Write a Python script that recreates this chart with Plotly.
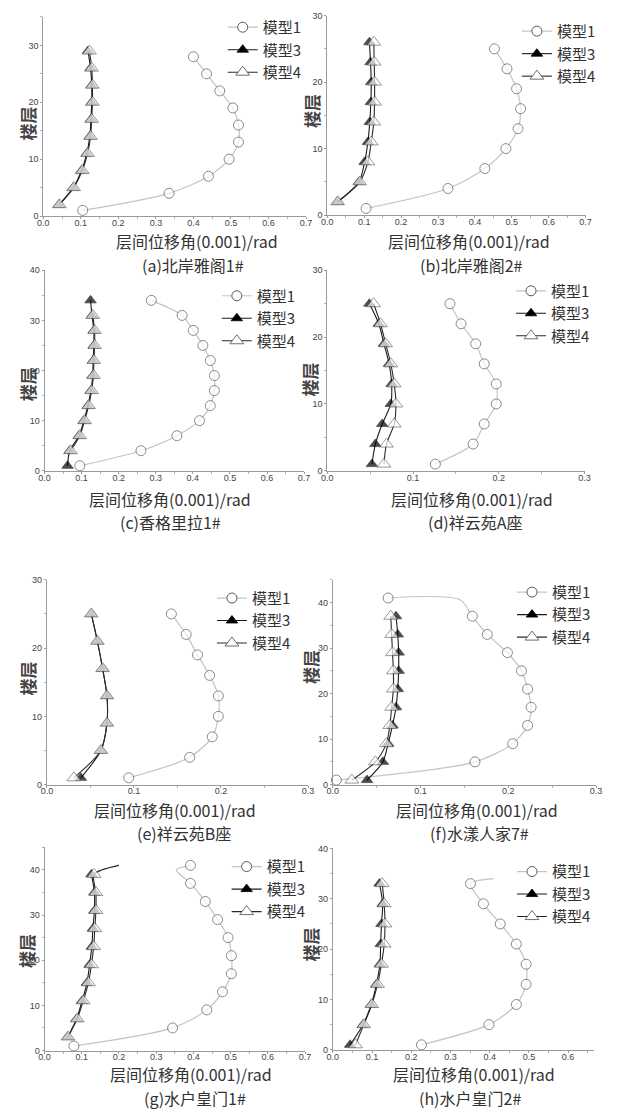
import plotly.graph_objects as go

W, H = 619, 1114

# ---------------- data: storey (楼层) vs. inter-storey drift (0.001 rad) ----------------
# (a) 北岸雅阁1#
a_m1_floor = [1, 4, 7, 10, 13, 16, 19, 22, 25, 28]
a_m1_drift = [0.105, 0.335, 0.44, 0.495, 0.52, 0.52, 0.505, 0.47, 0.435, 0.40]
a_m3_floor = [2, 5, 8, 11, 14, 17, 20, 23, 26, 29]
a_m3_drift = [0.042, 0.080, 0.102, 0.116, 0.124, 0.127, 0.129, 0.129, 0.126, 0.119]
a_m4_floor = [2, 5, 8, 11, 14, 17, 20, 23, 26, 29]
a_m4_drift = [0.043, 0.081, 0.104, 0.118, 0.126, 0.129, 0.131, 0.131, 0.129, 0.123]

# (b) 北岸雅阁2#
b_m1_floor = [1, 4, 7, 10, 13, 16, 19, 22, 25]
b_m1_drift = [0.105, 0.327, 0.427, 0.484, 0.517, 0.524, 0.513, 0.487, 0.453]
b_m3_floor = [2, 5, 8, 11, 14, 17, 20, 23, 26]
b_m3_drift = [0.028, 0.086, 0.101, 0.110, 0.115, 0.118, 0.119, 0.117, 0.114]
b_m4_floor = [2, 5, 8, 11, 14, 17, 20, 23, 26]
b_m4_drift = [0.028, 0.088, 0.110, 0.119, 0.126, 0.128, 0.128, 0.127, 0.126]

# (c) 香格里拉1#
c_m1_floor = [1, 4, 7, 10, 13, 16, 19, 22, 25, 28, 31, 34]
c_m1_drift = [0.095, 0.26, 0.357, 0.418, 0.447, 0.458, 0.458, 0.447, 0.427, 0.401, 0.371, 0.288]
c_m3_floor = [1, 4, 7, 10, 13, 16, 19, 22, 25, 28, 31, 34]
c_m3_drift = [0.062, 0.068, 0.093, 0.106, 0.117, 0.125, 0.130, 0.131, 0.133, 0.133, 0.128, 0.124]
c_m4_floor = [4, 7, 10, 13, 16, 19, 22, 25, 28, 31]
c_m4_drift = [0.070, 0.095, 0.108, 0.119, 0.127, 0.132, 0.133, 0.135, 0.135, 0.130]

# (d) 祥云苑A座
d_m1_floor = [1, 4, 7, 10, 13, 16, 19, 22, 25]
d_m1_drift = [0.126, 0.170, 0.183, 0.197, 0.197, 0.183, 0.173, 0.156, 0.143]
d_m3_floor = [1, 4, 7, 10, 13, 16, 19, 22, 25]
d_m3_drift = [0.052, 0.056, 0.064, 0.074, 0.075, 0.072, 0.066, 0.060, 0.049]
d_m4_floor = [1, 4, 7, 10, 13, 16, 19, 22, 25]
d_m4_drift = [0.066, 0.069, 0.078, 0.080, 0.078, 0.074, 0.068, 0.062, 0.054]

# (e) 祥云苑B座
e_m1_floor = [1, 4, 7, 10, 13, 16, 19, 22, 25]
e_m1_drift = [0.094, 0.164, 0.190, 0.197, 0.197, 0.187, 0.173, 0.160, 0.143]
e_m3_floor = [1, 5, 9, 13, 17, 21, 25]
e_m3_drift = [0.039, 0.062, 0.069, 0.069, 0.064, 0.058, 0.051]
e_m4_floor = [1, 5, 9, 13, 17, 21, 25]
e_m4_drift = [0.031, 0.062, 0.069, 0.069, 0.064, 0.058, 0.051]

# (f) 水漾人家7#
f_m1_floor = [1, 5, 9, 13, 17, 21, 25, 29, 33, 37, 41]
f_m1_drift = [0.004, 0.162, 0.205, 0.222, 0.226, 0.222, 0.215, 0.199, 0.176, 0.159, 0.063]
f_m1_extra_floor = [40.6]
f_m1_extra_drift = [0.145]
f_m3_floor = [1, 5, 9, 13, 17, 21, 25, 29, 33, 37]
f_m3_drift = [0.039, 0.057, 0.063, 0.068, 0.072, 0.074, 0.075, 0.075, 0.074, 0.072]
f_m4_floor = [1, 5, 9, 13, 17, 21, 25, 29, 33, 37]
f_m4_drift = [0.0216, 0.0485, 0.061, 0.065, 0.067, 0.069, 0.069, 0.068, 0.067, 0.066]

# (g) 水户皇门1#
g_m1_floor = [1, 5, 9, 13, 17, 21, 25, 29, 33, 37, 41]
g_m1_drift = [0.079, 0.344, 0.436, 0.478, 0.502, 0.502, 0.493, 0.465, 0.432, 0.392, 0.392]
g_m1_extra_floor = [40]
g_m1_extra_drift = [0.354]
g_m3_floor = [3, 7, 11, 15, 19, 23, 27, 31, 35, 39]
g_m3_drift = [0.062, 0.086, 0.101, 0.114, 0.121, 0.127, 0.130, 0.134, 0.134, 0.126]
g_m4_floor = [3, 7, 11, 15, 19, 23, 27, 31, 35, 39]
g_m4_drift = [0.063, 0.088, 0.104, 0.118, 0.126, 0.132, 0.135, 0.138, 0.138, 0.133]
g_m4_extra_floor = [41]
g_m4_extra_drift = [0.20]

# (h) 水户皇门2#
h_m1_floor = [1, 5, 9, 13, 17, 21, 25, 29, 33]
h_m1_drift = [0.226, 0.398, 0.468, 0.493, 0.493, 0.468, 0.427, 0.384, 0.351]
h_m1_extra_floor = [34]
h_m1_extra_drift = [0.41]
h_m3_floor = [1, 5, 9, 13, 17, 21, 25, 29, 33]
h_m3_drift = [0.044, 0.077, 0.098, 0.111, 0.120, 0.122, 0.124, 0.127, 0.119]
h_m4_floor = [1, 5, 9, 13, 17, 21, 25, 29, 33]
h_m4_drift = [0.058, 0.079, 0.0995, 0.114, 0.124, 0.131, 0.133, 0.131, 0.126]

series_names = ["模型1", "模型3", "模型4"]
x_title = "层间位移角(0.001)/rad"
y_title = "楼层"
captions = ["(a)北岸雅阁1#", "(b)北岸雅阁2#", "(c)香格里拉1#", "(d)祥云苑A座",
            "(e)祥云苑B座", "(f)水漾人家7#", "(g)水户皇门1#", "(h)水户皇门2#"]

panels = [
    dict(m1=(a_m1_floor, a_m1_drift, [], []), m3=(a_m3_floor, a_m3_drift, [], []),
         m4=(a_m4_floor, a_m4_drift, [], []), xr=0.7, yr=35),
    dict(m1=(b_m1_floor, b_m1_drift, [], []), m3=(b_m3_floor, b_m3_drift, [], []),
         m4=(b_m4_floor, b_m4_drift, [], []), xr=0.7, yr=30),
    dict(m1=(c_m1_floor, c_m1_drift, [], []), m3=(c_m3_floor, c_m3_drift, [], []),
         m4=(c_m4_floor, c_m4_drift, [], []), xr=0.7, yr=40),
    dict(m1=(d_m1_floor, d_m1_drift, [], []), m3=(d_m3_floor, d_m3_drift, [], []),
         m4=(d_m4_floor, d_m4_drift, [], []), xr=0.3, yr=30),
    dict(m1=(e_m1_floor, e_m1_drift, [], []), m3=(e_m3_floor, e_m3_drift, [], []),
         m4=(e_m4_floor, e_m4_drift, [], []), xr=0.3, yr=30),
    dict(m1=(f_m1_floor, f_m1_drift, f_m1_extra_floor, f_m1_extra_drift),
         m3=(f_m3_floor, f_m3_drift, [], []),
         m4=(f_m4_floor, f_m4_drift, [], []), xr=0.3, yr=45),
    dict(m1=(g_m1_floor, g_m1_drift, g_m1_extra_floor, g_m1_extra_drift),
         m3=(g_m3_floor, g_m3_drift, [], []),
         m4=(g_m4_floor, g_m4_drift, g_m4_extra_floor, g_m4_extra_drift), xr=0.7, yr=45),
    dict(m1=(h_m1_floor, h_m1_drift, h_m1_extra_floor, h_m1_extra_drift),
         m3=(h_m3_floor, h_m3_drift, [], []),
         m4=(h_m4_floor, h_m4_drift, [], []), xr=0.667, yr=40),
]

# ---------------- layout geometry (pixels) ----------------
# plot-area boxes: left, right, top, bottom
boxes = [
    (38, 306, 12, 213), (327.7, 591, 10.7, 212),
    (39.3, 304, 267.7, 470), (327.7, 590, 267.7, 470),
    (41.7, 308, 580, 786.7), (333.3, 601.7, 580, 786.7),
    (39.3, 305, 849.9, 1055), (333.3, 600, 851, 1054.3),
]
xtitle_pos = [(195, 238), (472, 238), (167, 498), (475, 498),
              (172, 812), (480, 812), (189, 1079), (477, 1079)]
caption_pos = [(191, 262), (475, 262), (168, 522), (478, 522),
               (182, 836), (483, 836), (193, 1102.5), (473, 1102.5)]
ylabel_pos = [(22, 120), (311, 107), (22, 383), (310, 378),
              (22, 680), (310, 668), (21, 955), (311, 948)]
# left edge of each legend box and its top edge
legend_pos = [(221, 6), (521, 10), (215, 277), (515, 272),
              (210, 582), (516, 576), (225, 853), (516, 858)]

STYLE = {
    "模型1": dict(line=dict(color="#c4c4c4", width=1.2),
                 marker=dict(symbol="circle", color="white",
                             line=dict(color="#5a5a5a", width=1))),
    "模型3": dict(line=dict(color="#1a1a1a", width=1.1),
                 marker=dict(symbol="triangle-up", color="black",
                             line=dict(color="black", width=0.8))),
    "模型4": dict(line=dict(color="#2a2a2a", width=1.1),
                 marker=dict(symbol="triangle-up", color="white",
                             line=dict(color="#4a4a4a", width=0.8))),
}
MSIZE = {"模型1": 10, "模型3": 10, "模型4": 12}
FONT_CJK = "Noto Sans CJK SC"


def px(x):
    return x / W


def py(y):
    return 1 - y / H


fig = go.Figure()
layout = dict(width=W, height=H, margin=dict(l=0, r=0, t=0, b=0),
              paper_bgcolor="white", plot_bgcolor="white", showlegend=True)
annotations = []

for i, p in enumerate(panels):
    n = i + 1
    xa = "x" if n == 1 else f"x{n}"
    ya = "y" if n == 1 else f"y{n}"
    leg = "legend" if n == 1 else f"legend{n}"
    for key, name in zip(("m1", "m3", "m4"), series_names):
        fl, dr, efl, edr = p[key]
        pts = [(f, d, True) for f, d in zip(fl, dr)] + [(f, d, False) for f, d in zip(efl, edr)]
        pts.sort(key=lambda t: t[0])
        st = STYLE[name]
        # curve through every point; vertices without a symbol get size 0
        fig.add_trace(go.Scatter(
            x=[t[1] for t in pts], y=[t[0] for t in pts], name=name,
            mode="lines+markers", showlegend=False, xaxis=xa, yaxis=ya,
            line=dict(shape="spline", smoothing=0.8, **st["line"]),
            marker=dict(size=[MSIZE[name] if t[2] else 0 for t in pts], **st["marker"]),
            cliponaxis=False,
        ))
        # legend entry for the series
        fig.add_trace(go.Scatter(
            x=[None], y=[None], name=name, mode="lines+markers", legend=leg,
            xaxis=xa, yaxis=ya, line=st["line"],
            marker=dict(size=MSIZE[name], **st["marker"]),
        ))

    l, r, t, b = boxes[i]
    xr, yr = p["xr"], p["yr"]
    axis_common = dict(showline=True, linecolor="#9a9a9a", linewidth=1, mirror=False,
                       showgrid=False, zeroline=False, ticks="outside", ticklen=2,
                       tickcolor="#9a9a9a", tickwidth=1,
                       tickfont=dict(family="Liberation Sans", size=9, color="#444"))
    layout["xaxis" if n == 1 else f"xaxis{n}"] = dict(
        domain=[px(l), px(r)], range=[0, xr], anchor=ya, dtick=0.1, tickformat=".1f",
        ticklabelstandoff=-4,
        minor=dict(ticks="outside", ticklen=2, dtick=0.05, tickcolor="#b0b0b0"),
        **axis_common)
    layout["yaxis" if n == 1 else f"yaxis{n}"] = dict(
        domain=[py(b), py(t)], range=[0, yr], anchor=xa, dtick=10,
        minor=dict(ticks="outside", ticklen=2, dtick=5, tickcolor="#b0b0b0"),
        **axis_common)

    lx, ly = legend_pos[i]
    layout[leg] = dict(x=px(lx), y=py(ly), xanchor="left", yanchor="top",
                       bgcolor="rgba(0,0,0,0)", borderwidth=0,
                       tracegroupgap=0, itemwidth=30,
                       font=dict(family=FONT_CJK, size=15, color="#333"))

    tx, ty = xtitle_pos[i]
    annotations.append(dict(x=px(tx), y=py(ty), xref="paper", yref="paper", text=x_title,
                            showarrow=False, xanchor="center", yanchor="middle",
                            font=dict(family=FONT_CJK, size=16, color="#333")))
    cx, cy = caption_pos[i]
    annotations.append(dict(x=px(cx), y=py(cy), xref="paper", yref="paper", text=captions[i],
                            showarrow=False, xanchor="center", yanchor="middle",
                            font=dict(family=FONT_CJK, size=16, color="#333")))
    yx, yy = ylabel_pos[i]
    annotations.append(dict(x=px(yx), y=py(yy), xref="paper", yref="paper",
                            text="<b>" + y_title + "</b>",
                            showarrow=False, xanchor="center", yanchor="middle", textangle=-90,
                            font=dict(family=FONT_CJK, size=17, color="#444")))

layout["annotations"] = annotations
fig.update_layout(**layout)
fig.write_html("out.html")
